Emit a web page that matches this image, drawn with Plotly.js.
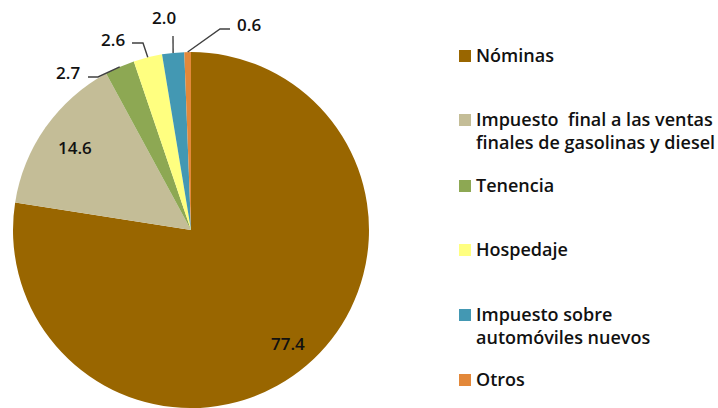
<!DOCTYPE html>
<html>
<head>
<meta charset="utf-8">
<script src="https://cdn.plot.ly/plotly-3.0.1.min.js"></script>
<style>
  html, body { margin: 0; padding: 0; background: #fff; overflow: hidden; }
  #chart { width: 718px; height: 408px; }
</style>
</head>
<body>
<div id="chart"></div>
<script>
// ---- data ----
var categories = [
  "Nóminas",
  "Impuesto\u00a0 final a las ventas<br>finales de gasolinas y diesel",
  "Tenencia",
  "Hospedaje",
  "Impuesto sobre<br>automóviles nuevos",
  "Otros"
];
var values = [77.4, 14.6, 2.7, 2.6, 2.0, 0.6];
var valueLabels = ["77.4", "14.6", "2.7", "2.6", "2.0", "0.6"];
var colors = ["#996600", "#C4BD97", "#8DA853", "#FFFF80", "#4398B3", "#E3883A"];

// ---- geometry (style) ----
var W = 718, H = 408;
var CX = 191, CY = 230, R = 178;
var FONT = "'Open Sans', Lato, sans-serif";
var WEIGHT = 600;

function px(x) { return x / W; }
function py(y) { return 1 - y / H; }

var total = values.reduce(function (a, b) { return a + b; }, 0);
var mids = [];
var cum = 0;
values.forEach(function (v) {
  var f = (cum + v / 2) / total;
  mids.push(f * 2 * Math.PI);
  cum += v;
});
function edgePoint(i, k) {
  var a = mids[i];
  return [CX + k * R * Math.sin(a), CY - k * R * Math.cos(a)];
}

var annotations = [];
var shapes = [];

// inside labels (big slices)
[0, 1].forEach(function (i) {
  var k = i === 0 ? 0.84 : 0.80;
  var p = edgePoint(i, k);
  annotations.push({
    x: px(p[0]), y: py(p[1]), xref: "paper", yref: "paper",
    text: valueLabels[i], showarrow: false,
    xanchor: "center", yanchor: "middle",
    font: { family: FONT, size: 17, weight: WEIGHT, color: "#111" }
  });
});

// outside labels with leader lines: elbow and end offsets (style), label anchor
var leaders = {
  2: { elbow: [98, 77], end: [88, 77], label: [68, 72] },
  3: { elbow: [143, 43], end: [132, 43], label: [113, 40] },
  4: { elbow: [173, 36], end: [173, 36], label: [164, 18] },
  5: { elbow: [220, 29], end: [230, 29], label: [249, 24] }
};
Object.keys(leaders).forEach(function (key) {
  var i = +key;
  var L = leaders[i];
  var tip = edgePoint(i, 1.0);
  var path = "M " + px(tip[0]) + " " + py(tip[1]) +
             " L " + px(L.elbow[0]) + " " + py(L.elbow[1]) +
             " L " + px(L.end[0]) + " " + py(L.end[1]);
  shapes.push({
    type: "path", xref: "paper", yref: "paper", path: path,
    line: { color: "#404040", width: 1.4 }
  });
  annotations.push({
    x: px(L.label[0]), y: py(L.label[1]), xref: "paper", yref: "paper",
    text: valueLabels[i], showarrow: false,
    xanchor: "center", yanchor: "middle",
    font: { family: FONT, size: 17, weight: WEIGHT, color: "#111" }
  });
});

// custom legend (swatch + text), first lines spaced evenly
var legendTop = [56, 120, 186, 250, 315, 380];
categories.forEach(function (c, i) {
  var y = legendTop[i];
  shapes.push({
    type: "rect", xref: "paper", yref: "paper",
    x0: px(459), x1: px(471), y0: py(y - 6), y1: py(y + 6),
    fillcolor: colors[i], line: { width: 0 }
  });
  annotations.push({
    x: px(474), y: py(y - 15), xref: "paper", yref: "paper",
    text: c, showarrow: false, align: "left",
    xanchor: "left", yanchor: "top",
    font: { family: FONT, size: 18, weight: WEIGHT, color: "#111" }
  });
});

var trace = {
  type: "pie",
  labels: categories,
  values: values,
  sort: false,
  direction: "clockwise",
  rotation: 0,
  marker: { colors: colors, line: { width: 0 } },
  textinfo: "none",
  hoverinfo: "label+value",
  showlegend: false,
  domain: { x: [px(CX - R), px(CX + R)], y: [py(CY + R), py(CY - R)] }
};

var layout = {
  width: W, height: H,
  margin: { l: 0, r: 0, t: 0, b: 0 },
  paper_bgcolor: "#ffffff",
  showlegend: false,
  font: { family: FONT },
  annotations: annotations,
  shapes: shapes
};

Plotly.newPlot("chart", [trace], layout, { displayModeBar: false, staticPlot: true });
</script>
</body>
</html>
